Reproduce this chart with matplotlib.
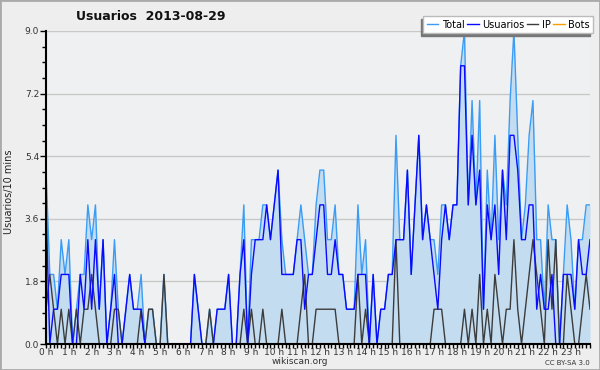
import matplotlib
matplotlib.use('Agg')
import matplotlib.pyplot as plt
from matplotlib.ticker import MultipleLocator, FixedLocator
from matplotlib.patches import Rectangle
import numpy as np

# 10-minute samples over the day (144 points)
hour_labels = [f'{h} h' for h in range(24)]

total = [5, 2, 2, 1, 3, 2, 3, 0, 1, 2, 2, 4, 3, 4, 1, 3, 0, 1, 3, 1, 0, 1, 2, 1,
         1, 2, 0, 1, 1, 0, 0, 2, 0, 0, 0, 0, 0, 0, 0, 2, 1, 0, 0, 1, 0, 1, 1, 1,
         2, 0, 0, 2, 4, 0, 3, 3, 3, 4, 4, 3, 4, 5, 3, 2, 2, 2, 3, 4, 3, 2, 2, 4,
         5, 5, 3, 3, 4, 2, 2, 1, 1, 1, 4, 2, 3, 0, 2, 0, 1, 1, 2, 2, 6, 3, 3, 5,
         2, 4, 6, 3, 4, 3, 3, 2, 4, 4, 3, 4, 4, 8, 9, 4, 7, 4, 7, 1, 5, 3, 6, 3,
         5, 4, 7, 9, 6, 3, 4, 6, 7, 3, 3, 1, 4, 3, 3, 0, 2, 4, 3, 1, 3, 3, 4, 4]
usuarios = [4, 0, 1, 1, 2, 2, 2, 0, 0, 2, 1, 3, 1, 3, 1, 3, 0, 1, 2, 0, 0, 1, 2, 1,
            1, 1, 0, 0, 0, 0, 0, 0, 0, 0, 0, 0, 0, 0, 0, 2, 1, 0, 0, 0, 0, 1, 1, 1,
            2, 0, 0, 2, 3, 0, 2, 3, 3, 3, 4, 3, 4, 5, 2, 2, 2, 2, 3, 3, 1, 2, 2, 3,
            4, 4, 2, 2, 3, 2, 2, 1, 1, 1, 2, 2, 2, 0, 2, 0, 1, 1, 2, 2, 3, 3, 3, 5,
            2, 4, 6, 3, 4, 3, 2, 1, 3, 4, 3, 4, 4, 8, 8, 4, 6, 4, 5, 1, 4, 3, 4, 2,
            5, 3, 6, 6, 5, 3, 3, 4, 4, 1, 2, 1, 1, 2, 0, 0, 2, 2, 2, 1, 3, 2, 2, 3]
ip = [1, 2, 1, 0, 1, 0, 1, 0, 1, 0, 1, 1, 2, 1, 0, 0, 0, 0, 1, 1, 0, 0, 0, 0,
      0, 1, 0, 1, 1, 0, 0, 2, 0, 0, 0, 0, 0, 0, 0, 0, 0, 0, 0, 1, 0, 0, 0, 0,
      0, 0, 0, 0, 1, 0, 1, 0, 0, 1, 0, 0, 0, 0, 1, 0, 0, 0, 0, 1, 2, 0, 0, 1,
      1, 1, 1, 1, 1, 0, 0, 0, 0, 0, 2, 0, 1, 0, 0, 0, 0, 0, 0, 0, 3, 0, 0, 0,
      0, 0, 0, 0, 0, 0, 1, 1, 1, 0, 0, 0, 0, 0, 1, 0, 1, 0, 2, 0, 1, 0, 2, 1,
      0, 1, 1, 3, 1, 0, 1, 2, 3, 2, 1, 0, 3, 1, 3, 0, 0, 2, 1, 0, 0, 1, 2, 1]
bots = [0] * 144

c_total = '#3a9cf5'
c_users = '#0a0aff'
c_ip = '#3c3c3c'
c_bots = '#ff9c00'

x = np.arange(len(total)) / 6.0

fig = plt.figure(figsize=(6, 3.7), dpi=100, facecolor='#eeeeee')
ax = fig.add_axes([46 / 600, 26 / 370, 544 / 600, 313 / 370])
ax.set_facecolor('#eff0f1')

ax.fill_between(x, total, 0, color='#c4dcf0', lw=0, zorder=1)
ax.plot(x, bots, color=c_bots, lw=1, label='Bots', zorder=1.5)
ax.plot(x, total, color=c_total, lw=1, label='Total', zorder=2)
ax.plot(x, usuarios, color=c_users, lw=1, label='Usuarios', zorder=2.2)
ax.plot(x, ip, color=c_ip, lw=1, label='IP', zorder=2.1)

ax.set_xlim(0, x[-1])
ax.set_ylim(0, 9)

ax.yaxis.set_major_locator(FixedLocator([0, 1.8, 3.6, 5.4, 7.2, 9.0]))
ax.yaxis.set_minor_locator(MultipleLocator(0.45))
ax.set_yticklabels(['0.0', '1.8', '3.6', '5.4', '7.2', '9.0'])
ax.xaxis.set_major_locator(FixedLocator(range(24)))
ax.xaxis.set_minor_locator(MultipleLocator(1 / 6))
ax.set_xticklabels(hour_labels)

ax.tick_params(axis='both', which='major', length=4, width=1, color='black',
               labelsize=6.5, labelcolor='#333333', pad=1)
ax.tick_params(axis='x', which='major', length=3, pad=0)
ax.tick_params(axis='both', which='minor', length=3, width=1, color='black')

ax.grid(axis='y', color='#c8c8c8', lw=1)
ax.set_axisbelow(True)
for s in ['top', 'right']:
    ax.spines[s].set_visible(False)
ax.spines['left'].set_linewidth(1.5)
ax.spines['bottom'].set_linewidth(1.5)

handles, labels = ax.get_legend_handles_labels()
order = [labels.index(n) for n in ['Total', 'Usuarios', 'IP', 'Bots']]
leg = ax.legend([handles[k] for k in order], [labels[k] for k in order],
                loc='upper right', bbox_to_anchor=(1.006, 1.047), borderaxespad=0,
                ncol=4, fontsize=7, handlelength=1.2, handletextpad=0.35,
                columnspacing=0.25, borderpad=0.35, fancybox=False, framealpha=1,
                edgecolor='#bbbbbb',
                shadow={'ox': -2, 'oy': -2, 'color': '#777777', 'alpha': 1})
leg.set_zorder(5)

fig.text(151 / 600, 1 - 16 / 370, 'Usuarios  2013-08-29', ha='center', va='center',
         fontsize=9, fontweight='bold', color='#111111')
fig.text(9 / 600, 1 - 192 / 370, 'Usuarios/10 mins', rotation=90, ha='center',
         va='center', fontsize=7, color='#222222')
fig.text(300 / 600, 1 - 362 / 370, 'wikiscan.org', ha='center', va='center',
         fontsize=6.5, color='#333333')
fig.text(590 / 600, 1 - 363 / 370, 'CC BY-SA 3.0', ha='right', va='center',
         fontsize=5, color='#333333')

fig.patches.append(Rectangle((0, 0), 1, 1, transform=fig.transFigure, fill=False,
                             edgecolor='#aaaaaa', lw=2))

fig.savefig('out.png', dpi=100, facecolor=fig.get_facecolor())
